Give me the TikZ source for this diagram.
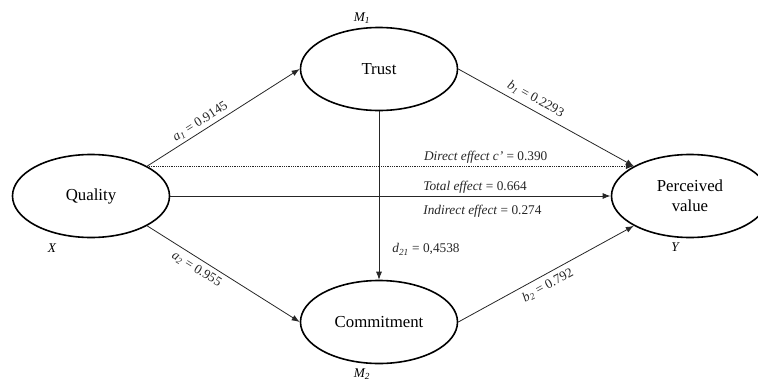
\documentclass[tikz,border=0pt]{standalone}
\usepackage{fontspec}
\setmainfont{Liberation Serif}
\usepackage{tikz}
\usetikzlibrary{arrows.meta,positioning,shapes.geometric,calc}
\newcommand{\coef}[2]{\textit{#1}\textsubscript{\textit{#2}}}
\tikzset{
  construct/.style={
    ellipse, draw=black, line width=1.6pt, fill=white,
    minimum width=157pt, minimum height=83pt, inner sep=0pt,
    font=\fontsize{16.8}{20}\selectfont, align=center
  },
  pathline/.style={-{Latex[length=8pt,width=6pt]}, line width=0.8pt, color=black!85},
  totalline/.style={pathline, line width=1pt},
  directline/.style={pathline, densely dotted},
  coeff/.style={font=\fontsize{13.3}{16}\selectfont, inner sep=2pt, sloped},
  effect/.style={font=\fontsize{13.3}{16}\selectfont, inner sep=2pt},
  varname/.style={font=\fontsize{13.3}{16}\selectfont\itshape, inner sep=0pt},
}

\begin{document}
\begin{tikzpicture}[x=1pt,y=-1pt]
  \useasboundingbox (0,0) rectangle (758,380);

  % Constructs
  \node[construct] (quality) at (91,196)  {Quality};
  \node[construct] (trust)   at (379,69)  {Trust};
  \node[construct] (commit)  at (379,322) {Commitment};
  \node[construct] (value)   at (690,196) {Perceived\\value};

  % Variable names
  \node[varname] (m1)    at (362,18)  {\coef{M}{1}};
  \node[varname] (m2)    at (362,374) {\coef{M}{2}};
  \node[varname] (xname) at (52,248)  {X};
  \node[varname] (yname) at (675,247) {Y};

  % Paths through the mediators
  \draw[pathline] (quality.28)  -- node[coeff, above=1pt, pos=0.38] {\coef{a}{1} = 0.9145} (trust.west);
  \draw[pathline] (quality.332) -- node[coeff, below=2.5pt, pos=0.36] {\coef{a}{2} = 0.955} (commit.west);
  \draw[pathline] (trust.east)  -- node[coeff, above=3pt, pos=0.41] {\coef{b}{1} = 0.2293} (value.152);
  \draw[pathline] (commit.east) -- node[coeff, below=3pt, pos=0.48] {\coef{b}{2} = 0.792} (value.208);
  \draw[pathline] (trust.south) -- node[effect, anchor=west, pos=0.82, xshift=11pt]
        {\coef{d}{21} = 0,4538} (commit.north);

  % Direct and total effects
  \draw[directline] (quality.28) -- node[effect, anchor=south west, pos=0.564]
        {\textit{Direct effect c’} = 0.390} (value.152);
  \draw[totalline] (quality.east)
        -- node[effect, anchor=south west, pos=0.569] {\textit{Total effect} = 0.664}
           node[effect, anchor=north west, pos=0.569, yshift=-7pt] {\textit{Indirect effect} = 0.274}
        (value.west);

\end{tikzpicture}
\end{document}
